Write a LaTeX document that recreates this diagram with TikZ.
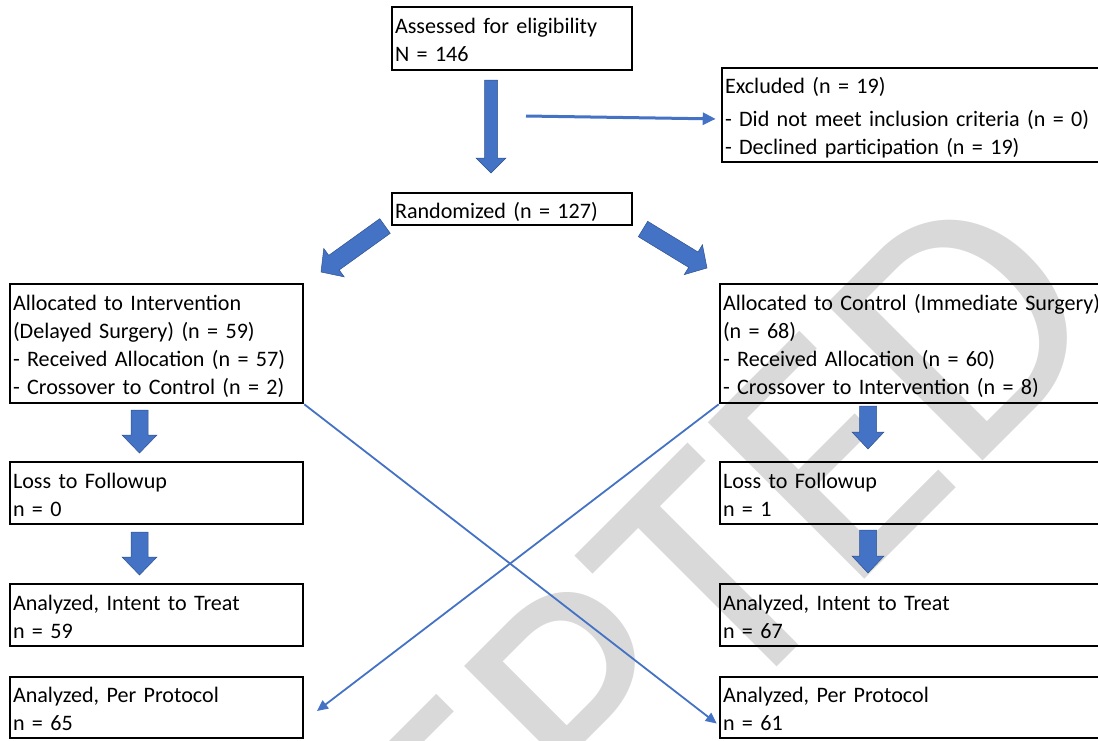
\documentclass[tikz,border=0pt]{standalone}
\usepackage{fontspec}
\setmainfont{Carlito}
\usetikzlibrary{calc,arrows.meta}

\definecolor{wordblue}{HTML}{4472C4}
\definecolor{wordblueline}{HTML}{2F528F}
\definecolor{wmgray}{HTML}{D9D9D9}

\newcommand{\lstrut}{\rule[-5pt]{0pt}{28pt}}
% filled block arrow: from, to, shaft half width, head half width, head length
\newcommand{\fatarrow}[5]{%
	\filldraw[fat] let \p1=(#1), \p2=(#2),
		\n1={atan2(\y2-\y1,\x2-\x1)}, \n2={veclen(\x2-\x1,\y2-\y1)} in
		[shift={(\p1)}, rotate=\n1]
		(0,#3) -- ({\n2-#5},#3) -- ({\n2-#5},#4) -- (\n2,0)
		-- ({\n2-#5},-#4) -- ({\n2-#5},-#3) -- (0,-#3) -- cycle;}

\tikzset{
	box/.style={draw, line width=2.6pt, align=left, inner xsep=3pt, inner ysep=0pt,
		font=\fontsize{22.1}{28}\selectfont},
	fat/.style={fill=wordblue, draw=wordblueline, line width=0.5pt},
	link/.style={draw=wordblue, line width=1.8pt, ->},
	wm/.style={text=wmgray, inner sep=0pt, font=\fontsize{345}{345}\selectfont}
}

\begin{document}
\begin{tikzpicture}[>={Triangle[length=11pt, width=10pt]}, x=1pt, y=-1pt, semithick]
		\path[use as bounding box, clip] (0,0) rectangle (1098,740);
		\begin{scope}[shift={(522,765)}, rotate=45]
			\node[wm, transform shape] (0) at (0,0) {ACCEPTED};
		\end{scope}
		\node[box, text width=234pt, minimum height=63pt] (1) at (512, 38.5) {\lstrut Assessed for eligibility\\\lstrut N = 146};
		\node[box, text width=402pt, minimum height=94pt] (2) at (926, 115) {\lstrut Excluded (n = 19)\\[5pt]\lstrut - Did not meet inclusion criteria (n = 0)\\\lstrut - Declined participation (n = 19)};
		\node[box, text width=234pt, minimum height=32pt] (3) at (512, 209) {\lstrut Randomized (n = 127)};
		\node[box, text width=287pt, minimum height=119pt] (4) at (156.5, 343.5) {\lstrut Allocated to Intervention\\\lstrut (Delayed Surgery) (n = 59)\\\lstrut - Received Allocation (n = 57)\\\lstrut - Crossover to Control (n = 2)};
		\node[box, text width=404pt, minimum height=119pt] (5) at (925, 343.5) {\lstrut Allocated to Control (Immediate Surgery)\\\lstrut (n = 68)\\\lstrut - Received Allocation (n = 60)\\\lstrut - Crossover to Intervention (n = 8)};
		\node[box, text width=287pt, minimum height=62pt] (6) at (156.5, 493) {\lstrut Loss to Followup\\\lstrut n = 0};
		\node[box, text width=404pt, minimum height=62pt] (7) at (925, 493) {\lstrut Loss to Followup\\\lstrut n = 1};
		\node[box, text width=287pt, minimum height=62pt] (8) at (156.5, 615) {\lstrut Analyzed, Intent to Treat\\\lstrut n = 59};
		\node[box, text width=404pt, minimum height=62pt] (9) at (925, 615) {\lstrut Analyzed, Intent to Treat\\\lstrut n = 67};
		\node[box, text width=287pt, minimum height=61pt] (10) at (156.5, 707.5) {\lstrut Analyzed, Per Protocol\\\lstrut n = 65};
		\node[box, text width=404pt, minimum height=61pt] (11) at (925, 707.5) {\lstrut Analyzed, Per Protocol\\\lstrut n = 61};
		% block arrows
		\coordinate (12) at (491, 80);
		\coordinate (13) at (491, 173);
		\coordinate (14) at (385, 226);
		\coordinate (15) at (321, 272);
		\coordinate (16) at (643, 229);
		\coordinate (17) at (707, 268);
		\coordinate (18) at (139.5, 410);
		\coordinate (19) at (139.5, 453);
		\coordinate (20) at (139.5, 532);
		\coordinate (21) at (139.5, 575);
		\coordinate (22) at (868, 406);
		\coordinate (23) at (868, 449);
		\coordinate (24) at (868, 530);
		\coordinate (25) at (868, 573);
		\fatarrow{12}{13}{6.5}{15}{15}
		\fatarrow{14}{15}{9}{17.5}{16}
		\fatarrow{16}{17}{9}{17.5}{16}
		\fatarrow{18}{19}{8.5}{17.5}{18}
		\fatarrow{20}{21}{8.5}{17.5}{18}
		\fatarrow{22}{23}{8.5}{16}{17}
		\fatarrow{24}{25}{8.5}{16}{17}
		% thin connectors
		\coordinate (26) at (526, 116);
		\coordinate (27) at (317, 711);
		\draw[link, line width=3pt, -{Triangle[length=13pt, width=12pt]}, shorten >=5pt] (26) to ([yshift=-4pt]2.west);
		\draw[link] (4.south east) to ([yshift=-16pt, xshift=-2pt]11.west);
		\draw[link] (5.south west) to (27);
\end{tikzpicture}
\end{document}
